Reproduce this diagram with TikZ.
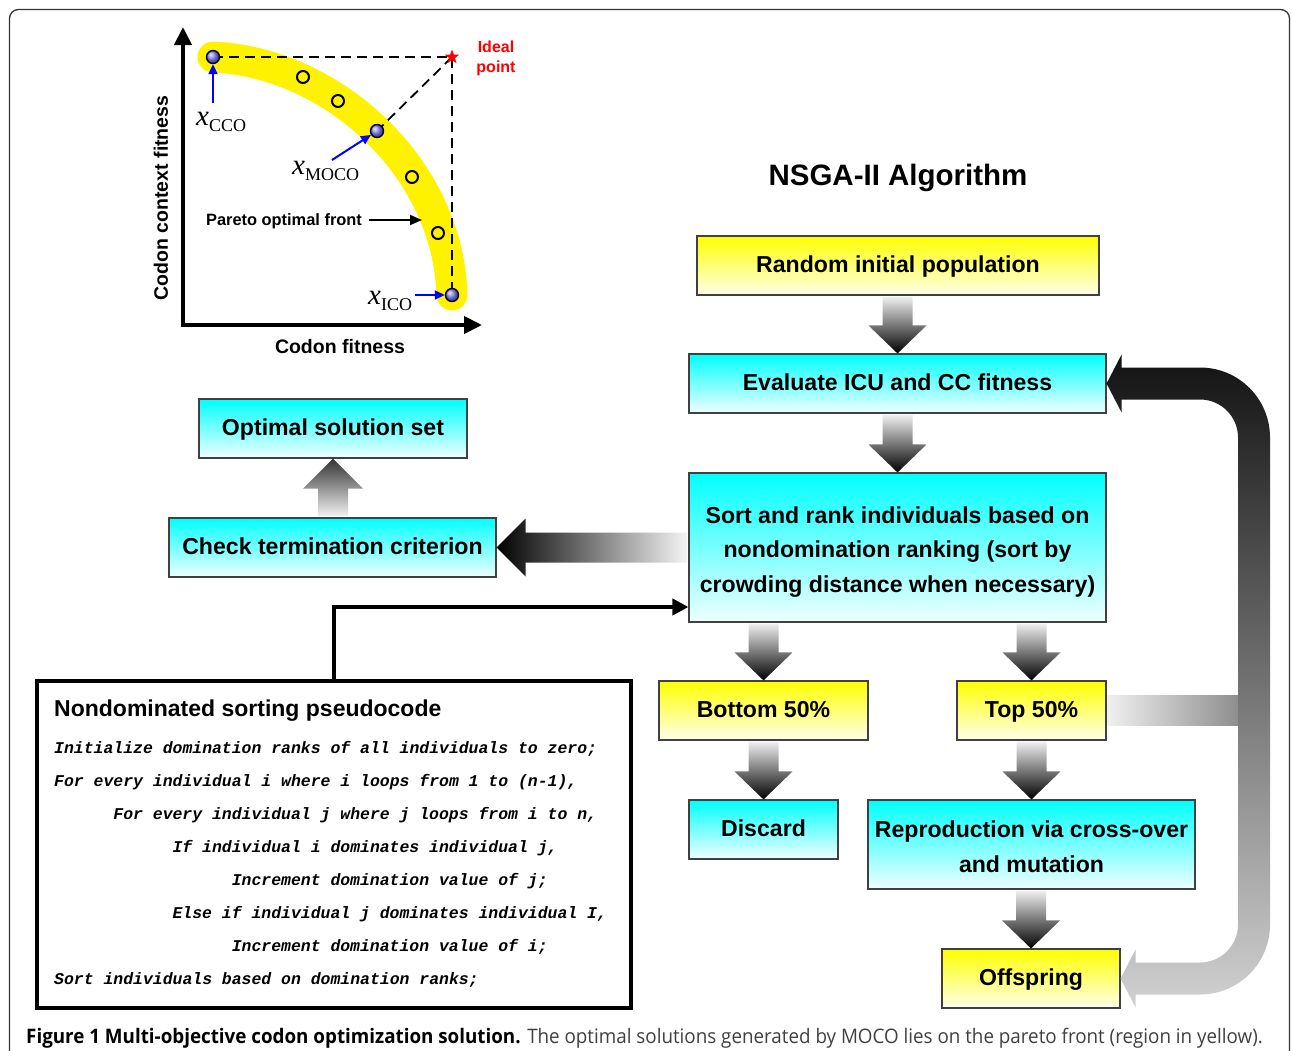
\documentclass[tikz,border=0pt]{standalone}
\usepackage{fontspec}
\setmainfont{Liberation Sans}
\setmonofont{Liberation Mono}
\newfontfamily\seriffont{Liberation Serif}
\newfontfamily\capfont[FakeStretch=0.94]{Open Sans}
\usetikzlibrary{arrows.meta,shapes.geometric,calc}

\tikzset{
  box/.style={draw=black!75, line width=1.1pt, minimum height=59pt, inner sep=0pt,
    align=center, font=\fontsize{23.1}{34.5}\selectfont\bfseries},
  oneline/.style={text height=17.5pt, text depth=4.5pt},
  cyanbox/.style={box, top color=cyan, bottom color=cyan!6!white},
  yellowbox/.style={box, top color=yellow, bottom color=yellow!8!white},
  axisline/.style={line width=4pt, {Triangle[length=18pt,width=17pt]}-{Triangle[length=18pt,width=17pt]}},
  bluedot/.style={circle, draw=black!80!blue, line width=1.4pt, minimum size=13pt, inner sep=0pt, ball color=blue!45!white},
  opendot/.style={circle, draw=black, line width=2pt, minimum size=12pt, inner sep=0pt},
  dashline/.style={black, line width=1.8pt, dash pattern=on 10pt off 6pt},
  bluearr/.style={blue, line width=2pt, -{Triangle[length=10pt,width=9pt]}},
  blackarr/.style={black, line width=1.8pt, -{Triangle[length=12pt,width=10pt]}},
  chartlabel/.style={font=\bfseries\fontsize{19.5}{22}\selectfont, inner sep=0pt},
  codeline/.style={anchor=base west, inner sep=0pt, font=\ttfamily\bfseries\itshape\fontsize{16.45}{20}\selectfont},
  downshade/.style={top color=black!6, bottom color=black},
}

\newcommand\blockdown[2]{%
  \path[downshade]
    ($(#1.south -| #2.north)+(-15,1)$) -- ($(#2.north)+(-15,-28)$) -- ($(#2.north)+(-29,-28)$)
    -- (#2.north) -- ($(#2.north)+(29,-28)$) -- ($(#2.north)+(15,-28)$)
    -- ($(#1.south -| #2.north)+(15,1)$) -- cycle;}

\begin{document}
\begin{tikzpicture}[x=1pt,y=-1pt]
\useasboundingbox (0,0) rectangle (1292,1050);
\clip (0,0) rectangle (1292,1050);

% outer frame
\draw[black!80, line width=1.3pt, rounded corners=9pt] (9.5,1060) -- (9.5,9.5) -- (1289.5,9.5) -- (1289.5,1060);

% ---------- chart ----------
\coordinate (origin) at (183,325);
\coordinate (ytip) at (183,27);
\coordinate (xtip) at (482,325);
\coordinate (cco) at (213,57);
\coordinate (moco) at (377,131);
\coordinate (ico) at (452,295);
\coordinate (idealpt) at (452,57);

\draw[yellow, line width=31pt, line cap=round] (cco) .. controls (330,62) and (448,165) .. (ico);
\draw[axisline] (ytip) -- (origin.center) -- (xtip);
\draw[dashline] (cco) -- (idealpt) -- (ico);
\draw[dashline] (idealpt) -- (moco);

\node[opendot] (o1) at (303,77) {};
\node[opendot] (o2) at (338,101) {};
\node[opendot] (o3) at (412,177) {};
\node[opendot] (o4) at (438,233) {};
\node[bluedot] (pcco) at (cco) {};
\node[bluedot] (pmoco) at (moco) {};
\node[bluedot] (pico) at (ico) {};
\node[star, star points=5, star point ratio=2.4, fill=red, minimum size=15pt, inner sep=0pt] (ideal) at (idealpt) {};
\node[red, font=\bfseries\fontsize{16}{20}\selectfont, align=center, inner sep=0pt] (ideallab) at (496,58) {Ideal\\point};

\node[anchor=base west, inner sep=0pt] (lcco) at (196,125)
  {\seriffont\fontsize{29}{30}\selectfont\itshape x\raisebox{-6pt}{\upshape\fontsize{18}{18}\selectfont CCO}};
\node[anchor=base west, inner sep=0pt] (lmoco) at (292,174)
  {\seriffont\fontsize{29}{30}\selectfont\itshape x\raisebox{-6pt}{\upshape\fontsize{18}{18}\selectfont MOCO}};
\node[anchor=base west, inner sep=0pt] (lico) at (368,304)
  {\seriffont\fontsize{29}{30}\selectfont\itshape x\raisebox{-6pt}{\upshape\fontsize{18}{18}\selectfont ICO}};
\coordinate (acco) at (213,103);
\coordinate (amoco) at (332,160);
\coordinate (aico) at (415,295);
\draw[bluearr] (acco) -- (pcco);
\draw[bluearr] (amoco) -- (pmoco);
\draw[bluearr] (aico) -- (pico);

\node[font=\bfseries\fontsize{16.4}{18}\selectfont, inner sep=0pt] (plabel) at (284,221) {Pareto optimal front};
\coordinate (ptip) at (422,220);
\draw[blackarr] ($(plabel.east)+(7,-1)$) -- (ptip);

\node[chartlabel, rotate=90] (ylab) at (161,198) {Codon context fitness};
\node[chartlabel] (xlab) at (340,347) {Codon fitness};

% ---------- flow chart ----------
\node[font=\bfseries\fontsize{29.5}{32}\selectfont] (title) at (898,178) {NSGA-II Algorithm};

\node[yellowbox, oneline, minimum width=402pt] (rip) at (898,265.5) {Random initial population};
\node[cyanbox, oneline, minimum width=417pt] (eval) at (897.5,383.5) {Evaluate ICU and CC fitness};
\node[cyanbox, minimum width=417pt, minimum height=149pt] (sort) at (897.5,547.5)
  {\rule{0pt}{25pt}Sort and rank individuals based on\\nondomination ranking (sort by\\crowding distance when necessary)};
\node[cyanbox, oneline, minimum width=268pt] (opt) at (333,428.5) {Optimal solution set};
\node[cyanbox, oneline, minimum width=327pt] (check) at (332.5,547.5) {Check termination criterion};
\node[yellowbox, oneline, minimum width=209pt] (bottom) at (763.5,710.5) {Bottom 50\%};
\node[yellowbox, oneline, minimum width=149pt] (top) at (1031.5,710.5) {Top 50\%};
\node[cyanbox, oneline, minimum width=149pt] (discard) at (763.5,829.5) {Discard};
\node[cyanbox, minimum width=327pt, minimum height=89pt] (repro) at (1031.5,844.5) {\rule{0pt}{21pt}Reproduction via cross-over\\and mutation};
\node[yellowbox, oneline, minimum width=178pt] (offspring) at (1031,978.5) {Offspring};

% block arrows
\blockdown{rip}{eval}
\blockdown{eval}{sort}
\blockdown{sort}{bottom}
\blockdown{sort}{top}
\blockdown{bottom}{discard}
\blockdown{top}{repro}
\blockdown{repro}{offspring}

\path[top color=black!80, bottom color=black!5]
  ($(check.north -| opt.south)+(-15,-1)$) -- ($(opt.south)+(-15,30)$) -- ($(opt.south)+(-30,30)$)
  -- (opt.south) -- ($(opt.south)+(30,30)$) -- ($(opt.south)+(15,30)$)
  -- ($(check.north -| opt.south)+(15,-1)$) -- cycle;

\path[left color=black, right color=black!4]
  ($(sort.west)+(-1,-15)$) -- ($(check.east)+(29,-15)$) -- ($(check.east)+(29,-29)$)
  -- (check.east) -- ($(check.east)+(29,29)$) -- ($(check.east)+(29,15)$)
  -- ($(sort.west)+(-1,15)$) -- cycle;

% loop arrow
\coordinate (junction) at (1240,710.5);
\path[left color=black!6, right color=black!45] ($(top.east)+(1,-15)$) rectangle ($(junction)+(0,15)$);
\path[top color=black!93, bottom color=black!18]
  ($(eval.east)+(15,-16)$) -- (1200,367.5) .. controls (1238.7,367.5) and (1270,398.8) .. (1270,437.5)
  -- (1270,924.5) .. controls (1270,963.2) and (1238.7,994.5) .. (1200,994.5)
  -- ($(offspring.east)+(15,16)$) -- ($(offspring.east)+(15,29)$) -- (offspring.east)
  -- ($(offspring.east)+(15,-29)$) -- ($(offspring.east)+(15,-16)$)
  -- (1200,962.5) .. controls (1221,962.5) and (1238,945.5) .. (1238,924.5)
  -- (1238,437.5) .. controls (1238,416.5) and (1221,399.5) .. (1200,399.5)
  -- ($(eval.east)+(15,16)$) -- ($(eval.east)+(15,29)$) -- (eval.east)
  -- ($(eval.east)+(15,-29)$) -- cycle;

% pseudocode
\node[draw=black, line width=3.2pt, minimum width=594pt, minimum height=327pt, fill=white, inner sep=0pt] (pseudo) at (334,844.5) {};
\draw[line width=4pt, -{Triangle[length=16pt,width=16pt]}] (pseudo.north) |- ($(sort.west)+(0,59.5)$);

\node[anchor=base west, inner sep=0pt, font=\bfseries\fontsize{23}{26}\selectfont] (ptitle) at (54,716) {Nondominated sorting pseudocode};
\node[codeline] (c1) at (54,753) {Initialize domination ranks of all individuals to zero;};
\node[codeline] (c2) at (54,786) {For every individual i where i loops from 1 to (n-1),};
\node[codeline] (c3) at (113.2,819) {For every individual j where j loops from i to n,};
\node[codeline] (c4) at (172.4,852) {If individual i dominates individual j,};
\node[codeline] (c5) at (231.6,885) {Increment domination value of j;};
\node[codeline] (c6) at (172.4,918) {Else if individual j dominates individual I,};
\node[codeline] (c7) at (231.6,951) {Increment domination value of i;};
\node[codeline] (c8) at (54,984) {Sort individuals based on domination ranks;};

% caption
\node[anchor=base west, inner sep=0pt] (caption) at (26,1043)
  {\capfont\fontsize{20}{22}\selectfont\textbf{Figure 1 Multi-objective codon optimization solution.} {\color{black!75}The optimal solutions generated by MOCO lies on the pareto front (region in yellow).}};
\end{tikzpicture}
\end{document}
